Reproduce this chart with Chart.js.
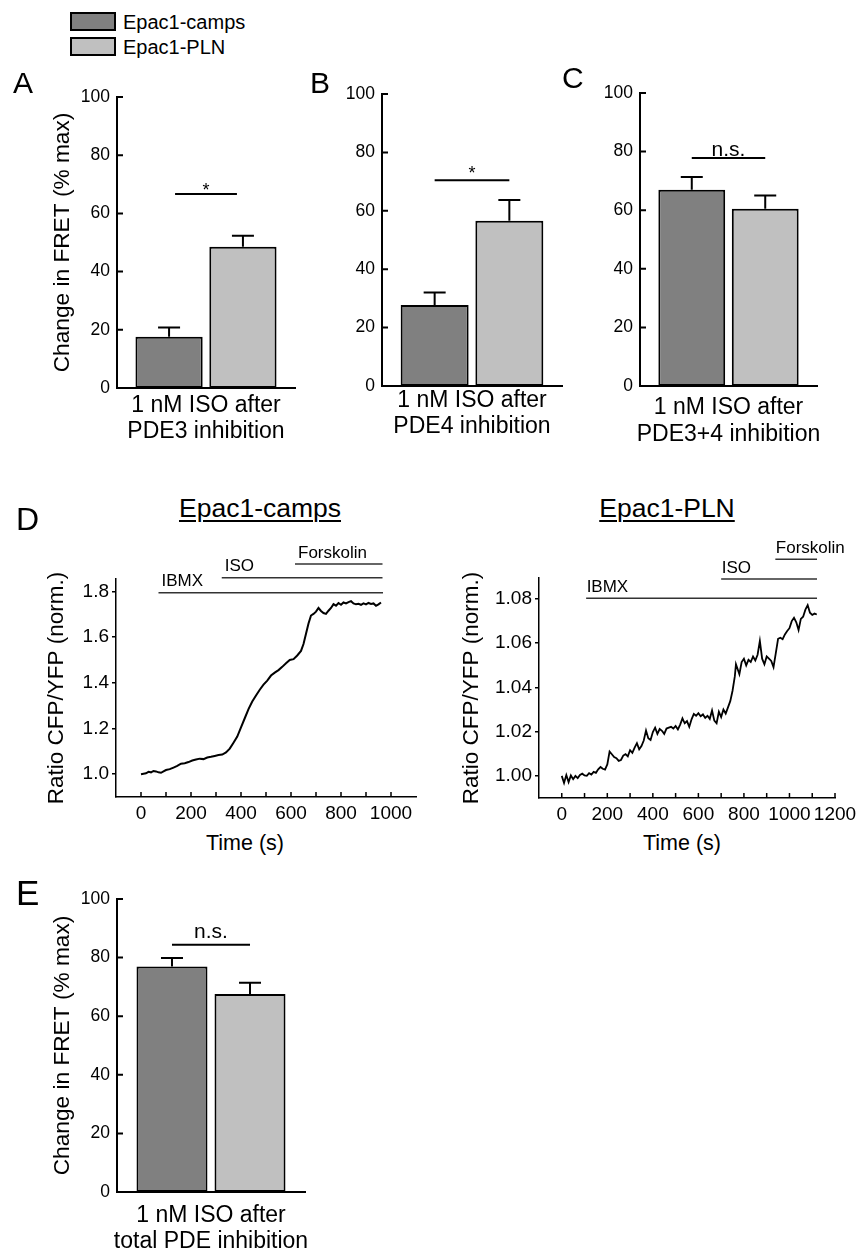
<!DOCTYPE html>
<html><head><meta charset="utf-8">
<script src="https://cdn.jsdelivr.net/npm/chart.js@4"></script>
<style>
html,body{margin:0;padding:0;background:#fff;width:856px;height:1252px;overflow:hidden;}
body{position:relative;font-family:'Liberation Sans',Arial,sans-serif;color:#000;}
canvas{position:absolute;}
.t{position:absolute;white-space:nowrap;line-height:1;}
.box{position:absolute;border:2px solid #000;box-sizing:border-box;}
</style></head><body>
<canvas id="cA"></canvas><canvas id="cB"></canvas><canvas id="cC"></canvas><canvas id="cE"></canvas>
<canvas id="cD1"></canvas><canvas id="cD2"></canvas>
<script>
// ---------------- DATA ----------------
const seriesNames = ['Epac1-camps', 'Epac1-PLN'];
const barCategories = [
  ['1 nM ISO after', 'PDE3 inhibition'],
  ['1 nM ISO after', 'PDE4 inhibition'],
  ['1 nM ISO after', 'PDE3+4 inhibition'],
  ['1 nM ISO after', 'total PDE inhibition']
];
const campsMean = [17.6, 27.7, 67.0, 77.0];
const campsSEM  = [3.2, 4.3, 4.3, 2.9];
const plnMean   = [48.5, 56.6, 60.5, 67.6];
const plnSEM    = [3.8, 7.1, 4.5, 3.8];
const sigLevel  = [66.7, 70.5, 77.8, 84.4];
const sigLabel  = ['*', '*', 'n.s.', 'n.s.'];
const barYTicks = [0, 20, 40, 60, 80, 100];
const barYTickLabels = ['0', '20', '40', '60', '80', '100'];
const barYTitle = 'Change in FRET (% max)';

const timeCamps = [0,10,20,30,40,50,60,70,80,90,100,115,130,145,160,175,190,205,220,235,250,265,280,295,310,325,340,355,370,385,400,415,430,445,460,475,490,505,520,535,550,565,580,595,610,625,640,650,660,670,680,690,700,710,720,730,740,750,760,770,780,790,800,810,820,830,840,850,860,870,880,890,900,910,920,930,940,950,960];
const ratioCamps = [1.000,1.002,1.004,1.010,1.008,1.014,1.012,1.008,1.006,1.012,1.018,1.022,1.029,1.036,1.046,1.048,1.053,1.060,1.064,1.068,1.066,1.073,1.076,1.080,1.084,1.086,1.095,1.112,1.138,1.165,1.205,1.245,1.285,1.318,1.345,1.370,1.392,1.410,1.432,1.445,1.456,1.470,1.486,1.500,1.504,1.520,1.540,1.570,1.615,1.660,1.695,1.702,1.712,1.728,1.715,1.706,1.702,1.716,1.728,1.745,1.738,1.750,1.742,1.752,1.748,1.754,1.758,1.748,1.744,1.746,1.742,1.748,1.744,1.750,1.746,1.748,1.738,1.744,1.752];

const timePLN = [0,10,20,30,40,50,60,70,80,90,100,110,120,130,140,150,160,170,180,190,200,210,220,230,240,250,260,270,280,290,300,310,320,330,340,350,360,370,380,390,400,410,420,430,440,450,460,470,480,490,500,510,520,530,540,550,560,570,580,590,600,610,620,630,640,650,660,670,680,690,700,710,720,730,740,750,760,765,770,780,790,800,810,820,830,840,850,860,870,880,890,900,910,920,930,940,950,960,970,980,990,1000,1010,1020,1030,1040,1050,1060,1070,1080,1090,1100,1110,1120];
const ratioPLN = [1.0000,0.9968,1.0004,0.9972,1.0002,0.9985,1.0000,0.9990,1.0004,1.0010,1.0002,1.0000,1.0012,1.0006,1.0018,1.0014,1.0030,1.0040,1.0032,1.0028,1.0052,1.0110,1.0098,1.0085,1.0080,1.0068,1.0072,1.0092,1.0098,1.0088,1.0116,1.0104,1.0128,1.0148,1.0120,1.0135,1.0160,1.0205,1.0170,1.0162,1.0198,1.0218,1.0190,1.0212,1.0204,1.0190,1.0214,1.0218,1.0222,1.0214,1.0226,1.0210,1.0232,1.0260,1.0238,1.0248,1.0222,1.0256,1.0280,1.0272,1.0284,1.0270,1.0278,1.0262,1.0272,1.0258,1.0296,1.0250,1.0238,1.0290,1.0266,1.0300,1.0282,1.0310,1.0338,1.0385,1.0450,1.0505,1.0490,1.0460,1.0515,1.0530,1.0500,1.0525,1.0515,1.0540,1.0522,1.0548,1.0610,1.0530,1.0505,1.0540,1.0530,1.0520,1.0492,1.0555,1.0620,1.0625,1.0618,1.0640,1.0655,1.0668,1.0700,1.0715,1.0695,1.0660,1.0710,1.0720,1.0752,1.0772,1.0738,1.0728,1.0734,1.0730];

const drugNames = ['IBMX', 'ISO', 'Forskolin'];
const drugStartCamps = [70, 323, 616];
const drugEndCamps   = [968, 966, 966];
const drugStartPLN   = [107, 700, 938];
const drugEndPLN     = [1121, 1121, 1121];

const timeTicksCamps = [0,100,200,300,400,500,600,700,800,900,1000];
const timeTickLabelsCamps = ['0','','200','','400','','600','','800','','1000'];
const timeTicksPLN = [0,100,200,300,400,500,600,700,800,900,1000,1100,1200];
const timeTickLabelsPLN = ['0','','200','','400','','600','','800','','1000','','1200'];
const ratioTicksCamps = [1.0, 1.2, 1.4, 1.6, 1.8];
const ratioTickLabelsCamps = ['1.0','1.2','1.4','1.6','1.8'];
const ratioTicksPLN = [1.00, 1.02, 1.04, 1.06, 1.08];
const ratioTickLabelsPLN = ['1.00','1.02','1.04','1.06','1.08'];
const ratioTitle = 'Ratio CFP/YFP (norm.)';
const timeTitle = 'Time (s)';

// ---------------- STYLE / LAYOUT ----------------
const FONT = "'Liberation Sans', Arial, sans-serif";
const DARK = '#808080', LIGHT = '#c0c0c0';

const errorBarPlugin = {
  id: 'errorBars',
  afterDatasetsDraw(chart, args, opts) {
    const ctx = chart.ctx, ys = chart.scales.y;
    chart.data.datasets.forEach((ds, di) => {
      chart.getDatasetMeta(di).data.forEach((bar, i) => {
        const top = ys.getPixelForValue(ds.data[i] + ds.sem[i]);
        ctx.save();
        ctx.strokeStyle = '#000'; ctx.lineWidth = opts.width;
        ctx.beginPath();
        ctx.moveTo(bar.x, bar.y); ctx.lineTo(bar.x, top);
        ctx.moveTo(bar.x - opts.cap / 2, top); ctx.lineTo(bar.x + opts.cap / 2, top);
        ctx.stroke(); ctx.restore();
      });
    });
  }
};
const sigPlugin = {
  id: 'sig',
  afterDatasetsDraw(chart, args, opts) {
    const ctx = chart.ctx;
    const b0 = chart.getDatasetMeta(0).data[0], b1 = chart.getDatasetMeta(1).data[0];
    const y = chart.scales.y.getPixelForValue(opts.level);
    ctx.save();
    ctx.strokeStyle = '#000'; ctx.lineWidth = 2;
    ctx.beginPath(); ctx.moveTo(b0.x + opts.inset, y); ctx.lineTo(b1.x - opts.inset, y); ctx.stroke();
    ctx.fillStyle = '#000'; ctx.textAlign = 'center'; ctx.textBaseline = 'alphabetic';
    const isStar = opts.label === '*';
    ctx.font = (isStar ? 18 : 21) + 'px ' + FONT;
    ctx.fillText(opts.label, (b0.x + b1.x) / 2, y + opts.dy);
    ctx.restore();
  }
};
const innerTickPlugin = {
  id: 'innerTicks',
  afterDraw(chart, args, opts) {
    const ctx = chart.ctx, ca = chart.chartArea;
    ctx.save(); ctx.strokeStyle = '#000'; ctx.lineWidth = opts.width;
    ctx.beginPath();
    if (opts.x) chart.scales.x.ticks.forEach(t => {
      const p = chart.scales.x.getPixelForValue(t.value);
      ctx.moveTo(p, ca.bottom); ctx.lineTo(p, ca.bottom - opts.x);
    });
    if (opts.y) chart.scales.y.ticks.forEach(t => {
      const p = chart.scales.y.getPixelForValue(t.value);
      ctx.moveTo(ca.left, p); ctx.lineTo(ca.left + opts.y, p);
    });
    ctx.stroke(); ctx.restore();
  }
};
const drugPlugin = {
  id: 'drugs',
  afterDraw(chart, args, opts) {
    const ctx = chart.ctx, xs = chart.scales.x, top = chart.chartArea.top;
    ctx.save();
    ctx.strokeStyle = '#333'; ctx.lineWidth = 1.5; ctx.fillStyle = '#000';
    ctx.font = '17px ' + FONT; ctx.textAlign = 'left'; ctx.textBaseline = 'middle';
    opts.names.forEach((n, i) => {
      const x1 = xs.getPixelForValue(opts.start[i]), x2 = xs.getPixelForValue(opts.end[i]);
      const y = top + opts.offsets[i];
      ctx.beginPath(); ctx.moveTo(x1, y); ctx.lineTo(x2, y); ctx.stroke();
      ctx.fillText(n, x1 + opts.dx, y - 11);
    });
    ctx.restore();
  }
};

function setCanvas(id, g) {
  const cv = document.getElementById(id);
  cv.width = g.w; cv.height = g.h;
  cv.style.left = g.x + 'px'; cv.style.top = g.y + 'px';
  cv.style.width = g.w + 'px'; cv.style.height = g.h + 'px';
  return cv;
}

function barChart(idx, g) {
  const cv = setCanvas(g.id, g);
  new Chart(cv, {
    type: 'bar',
    data: {
      labels: [barCategories[idx]],
      datasets: [
        { label: seriesNames[0], data: [campsMean[idx]], sem: [campsSEM[idx]], backgroundColor: DARK, borderColor: '#000', borderWidth: 2, borderSkipped: false },
        { label: seriesNames[1], data: [plnMean[idx]], sem: [plnSEM[idx]], backgroundColor: LIGHT, borderColor: '#000', borderWidth: 2, borderSkipped: false }
      ]
    },
    options: {
      responsive: false, animation: false, devicePixelRatio: 1,
      layout: { padding: { left: g.pl, top: g.pt, right: g.pr, bottom: 0 } },
      datasets: { bar: { categoryPercentage: 0.83, barPercentage: 0.91 } },
      plugins: {
        legend: { display: false }, tooltip: { enabled: false },
        errorBars: { width: 2, cap: 22 },
        sig: { level: sigLevel[idx], label: sigLabel[idx], inset: g.inset || 0, dy: g.sdy },
        innerTicks: { y: 6, width: 2 }
      },
      scales: {
        x: {
          grid: { display: false, drawTicks: false, tickLength: 0 },
          border: { display: true, color: '#000', width: 2 },
          ticks: { color: '#000', font: { family: FONT, size: 23, lineHeight: 1.15 }, padding: g.xpad, maxRotation: 0, minRotation: 0, autoSkip: false },
          afterFit: s => { s.height = g.xh; }
        },
        y: {
          min: 0, max: 100,
          grid: { display: false, drawTicks: false, tickLength: 0 },
          border: { display: true, color: '#000', width: 2 },
          ticks: { color: '#000', font: { family: FONT, size: 17.5 }, padding: 7,
                   callback: v => barYTickLabels[barYTicks.indexOf(v)] },
          afterBuildTicks: s => { s.ticks = barYTicks.map(v => ({ value: v })); },
          afterFit: s => { s.width = g.yw; },
          title: { display: !!g.title, text: barYTitle, color: '#000', font: { family: FONT, size: 22.7 }, padding: 0 }
        }
      }
    },
    plugins: [errorBarPlugin, sigPlugin, innerTickPlugin]
  });
}

function lineChart(g, times, ratios, xr, yr, xt, xtl, yt, ytl, drug) {
  const cv = setCanvas(g.id, g);
  new Chart(cv, {
    type: 'line',
    data: { datasets: [{ data: times.map((t, i) => ({ x: t, y: ratios[i] })), borderColor: '#000', borderWidth: g.lw, pointRadius: 0, tension: 0, fill: false }] },
    options: {
      responsive: false, animation: false, devicePixelRatio: 1,
      layout: { padding: { left: g.pl, top: g.pt, right: g.pr, bottom: 0 } },
      plugins: {
        legend: { display: false }, tooltip: { enabled: false },
        innerTicks: { x: 5, width: 1.5 },
        drugs: drug
      },
      scales: {
        x: {
          type: 'linear', min: xr[0], max: xr[1],
          grid: { display: false, drawTicks: false, tickLength: 0 },
          border: { display: true, color: '#000', width: 1.5 },
          ticks: { color: '#000', font: { family: FONT, size: 19 }, padding: 5, maxRotation: 0, autoSkip: false,
                   callback: v => xtl[xt.indexOf(v)] },
          afterBuildTicks: s => { s.ticks = xt.map(v => ({ value: v })); },
          afterFit: s => { s.height = g.xh; }
        },
        y: {
          min: yr[0], max: yr[1],
          grid: { display: true, drawOnChartArea: false, drawTicks: true, tickLength: 4, color: '#000', lineWidth: 1.5 },
          border: { display: true, color: '#000', width: 1.5 },
          ticks: { color: '#000', font: { family: FONT, size: 19 }, padding: 3,
                   callback: v => ytl[yt.indexOf(v)] },
          afterBuildTicks: s => { s.ticks = yt.map(v => ({ value: v })); },
          afterFit: s => { s.width = g.yw; },
          title: { display: true, text: ratioTitle, color: '#000', font: { family: FONT, size: 22.5 }, padding: 0 }
        }
      }
    },
    plugins: [innerTickPlugin, drugPlugin]
  });
}

barChart(0, { id: 'cA', x: 0,   y: 70,  w: 300, h: 380, pl: 49.4, yw: 67.6, pt: 27, pr: 5,  xh: 62, xpad: 4.3, title: true, inset: 6, sdy: 1.8 });
barChart(1, { id: 'cB', x: 300, y: 70,  w: 280, h: 380, pl: 40, yw: 42, pt: 24, pr: 18, xh: 64, xpad: 1, sdy: -0.7 });
barChart(2, { id: 'cC', x: 580, y: 70,  w: 276, h: 380, pl: 20, yw: 40, pt: 23, pr: 39, xh: 64, xpad: 8.5, sdy: -2 });
barChart(3, { id: 'cE', x: 0,   y: 870, w: 340, h: 382, pl: 49.4, yw: 67.6, pt: 29, pr: 35, xh: 60, xpad: 10, title: true, sdy: -7 });

lineChart({ id: 'cD1', x: 0, y: 530, w: 430, h: 300, pl: 43.5, yw: 72.5, pt: 49, pr: 14, xh: 33, lw: 2 },
  timeCamps, ratioCamps, [-100, 1100], [0.9, 1.855], timeTicksCamps, timeTickLabelsCamps, ratioTicksCamps, ratioTickLabelsCamps,
  { names: drugNames, start: drugStartCamps, end: drugEndCamps, offsets: [13.7, -1.3, -15], dx: 3 });
lineChart({ id: 'cD2', x: 430, y: 530, w: 450, h: 300, pl: 28.2, yw: 80.8, pt: 48, pr: 45, xh: 32, lw: 1.8 },
  timePLN, ratioPLN, [-100, 1200], [0.99, 1.0895], timeTicksPLN, timeTickLabelsPLN, ratioTicksPLN, ratioTickLabelsPLN,
  { names: drugNames, start: drugStartPLN, end: drugEndPLN, offsets: [20.3, 1, -18.7], dx: 0.5 });

// ---------------- HTML TEXT ----------------
function addText(txt, x, baseline, size, o = {}) {
  const d = document.createElement('div');
  d.className = 't'; d.textContent = txt;
  d.style.fontSize = size + 'px';
  d.style.top = (baseline - 0.8465 * size) + 'px';
  d.style.left = x + 'px';
  if (o.center) d.style.transform = 'translateX(-50%)';
  if (o.underline) { d.style.textDecoration = 'underline'; d.style.textDecorationThickness = '1.5px'; d.style.textUnderlineOffset = '3px'; }
  document.body.appendChild(d);
}
function addBox(x, y, w, h, color) {
  const b = document.createElement('div');
  b.className = 'box';
  b.style.left = x + 'px'; b.style.top = y + 'px'; b.style.width = w + 'px'; b.style.height = h + 'px';
  b.style.background = color;
  document.body.appendChild(b);
}
addBox(70, 12, 46, 19, DARK);
addBox(70, 37, 46, 19, LIGHT);
addText(seriesNames[0], 123, 28.5, 20);
addText(seriesNames[1], 123, 53.5, 20);
addText('A', 13, 93.3, 30);
addText('B', 310, 93.3, 30);
addText('C', 562, 88.5, 30);
addText('D', 16, 530, 32);
addText('E', 16, 905, 35);
addText(seriesNames[0], 260, 517, 26.5, { center: true, underline: true });
addText(seriesNames[1], 667, 517, 26.5, { center: true, underline: true });
addText(timeTitle, 245, 851, 21.5, { center: true });
addText(timeTitle, 682, 851, 21.5, { center: true });
</script>
</body></html>
